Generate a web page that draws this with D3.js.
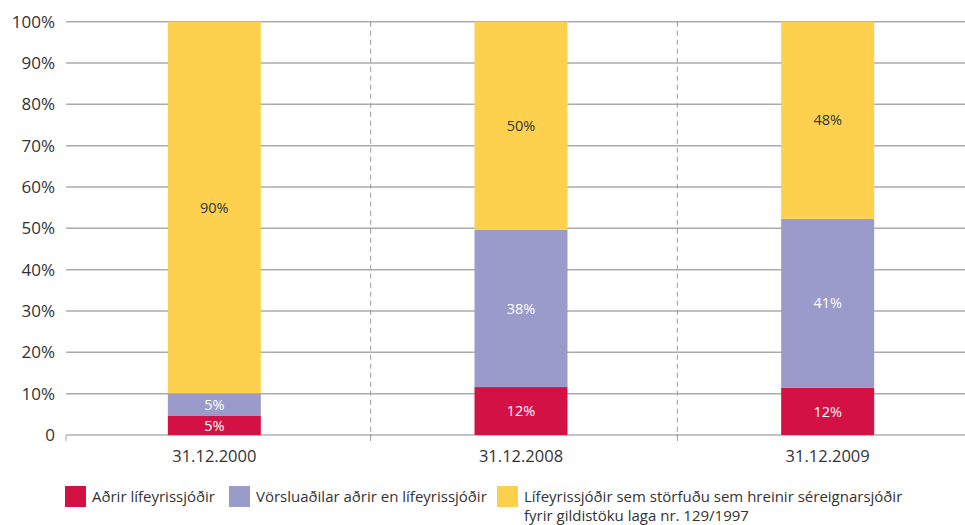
<!DOCTYPE html>
<html>
<head>
<meta charset="utf-8">
<script src="https://cdn.jsdelivr.net/npm/d3@7"></script>
<style>
  html, body { margin: 0; padding: 0; background: #fff; }
  svg { display: block; font-family: "Open Sans", "Noto Sans", sans-serif; }
</style>
</head>
<body>
<svg id="chart" width="965" height="525"></svg>
<script>
// ---- data ----
const categories = ["31.12.2000", "31.12.2008", "31.12.2009"];
const seriesNames = [
  "Aðrir lífeyrissjóðir",
  "Vörsluaðilar aðrir en lífeyrissjóðir",
  "Lífeyrissjóðir sem störfuðu sem hreinir séreignarsjóðir fyrir gildistöku laga nr. 129/1997"
];
const legendLines = [
  ["Aðrir lífeyrissjóðir"],
  ["Vörsluaðilar aðrir en lífeyrissjóðir"],
  ["Lífeyrissjóðir sem störfuðu sem hreinir séreignarsjóðir", "fyrir gildistöku laga nr. 129/1997"]
];
const adrir = [4.6, 11.6, 11.4];
const vorsluadilar = [5.5, 38.0, 40.9];
const hreinir = [89.9, 50.4, 47.7];
const labelsAdrir = ["5%", "12%", "12%"];
const labelsVorslu = ["5%", "38%", "41%"];
const labelsHreinir = ["90%", "50%", "48%"];
const yTicks = [0, 10, 20, 30, 40, 50, 60, 70, 80, 90, 100];
const colors = ["#d41145", "#9a9bcb", "#fdd14e"];
const labelColors = ["#ffffff", "#ffffff", "#333333"];

// ---- layout ----
const svg = d3.select("#chart");
const plotLeft = 66, plotRight = 965, plotTop = 21.7, plotBottom = 435;

const x = d3.scaleBand().domain(categories).range([61, 981]).padding(0);
const barW = 93;
const y = d3.scaleLinear().domain([0, 100]).range([plotBottom, plotTop]);

const values = [adrir, vorsluadilar, hreinir];
const labels = [labelsAdrir, labelsVorslu, labelsHreinir];
const rows = categories.map((c, i) => {
  const r = { cat: c };
  seriesNames.forEach((s, k) => r["s" + k] = values[k][i]);
  return r;
});
const stack = d3.stack().keys(seriesNames.map((s, k) => "s" + k))(rows);

// gridlines
svg.append("g").selectAll("line").data(yTicks).join("line")
  .attr("x1", plotLeft).attr("x2", plotRight)
  .attr("y1", d => y(d)).attr("y2", d => y(d))
  .attr("stroke", d => d === 0 ? "#c4c4c4" : "#ababab")
  .attr("stroke-width", d => d === 0 ? 2 : 1.5);

// left tick at axis start
svg.append("line").attr("x1", plotLeft).attr("x2", plotLeft)
  .attr("y1", plotBottom).attr("y2", plotBottom + 6)
  .attr("stroke", "#c4c4c4").attr("stroke-width", 1.5);

// separators between categories
const seps = categories.slice(1).map(c => x(c) + 3);
svg.append("g").selectAll("line").data(seps).join("line")
  .attr("x1", d => d).attr("x2", d => d)
  .attr("y1", plotTop).attr("y2", plotBottom)
  .attr("stroke", "#999").attr("stroke-width", 1)
  .attr("stroke-dasharray", "5,4");
svg.append("g").selectAll("line").data(seps).join("line")
  .attr("x1", d => d).attr("x2", d => d)
  .attr("y1", plotBottom - 1).attr("y2", plotBottom + 6)
  .attr("stroke", "#999").attr("stroke-width", 1);

// bars
stack.forEach((layer, k) => {
  const g = svg.append("g");
  g.selectAll("rect").data(layer).join("rect")
    .attr("x", d => x(d.data.cat) + x.bandwidth() / 2 - barW / 2)
    .attr("width", barW)
    .attr("y", d => y(d[1]))
    .attr("height", d => y(d[0]) - y(d[1]))
    .attr("fill", colors[k]);
  g.selectAll("text").data(layer).join("text")
    .attr("x", d => x(d.data.cat) + x.bandwidth() / 2)
    .attr("y", d => (y(d[0]) + y(d[1])) / 2)
    .attr("dy", "0.35em")
    .attr("text-anchor", "middle")
    .attr("font-size", 14.5)
    .attr("fill", labelColors[k])
    .text((d, i) => labels[k][i]);
});

// y axis labels
svg.append("g").selectAll("text").data(yTicks).join("text")
  .attr("x", 55)
  .attr("y", d => y(d))
  .attr("dy", "0.35em")
  .attr("text-anchor", "end")
  .attr("font-size", 17)
  .attr("fill", "#333")
  .text(d => d === 0 ? "0" : d + "%");

// x axis labels
svg.append("g").selectAll("text").data(categories).join("text")
  .attr("x", d => x(d) + x.bandwidth() / 2)
  .attr("y", 462)
  .attr("text-anchor", "middle")
  .attr("font-size", 16.5)
  .attr("fill", "#333")
  .text(d => d);

// legend
const legendX = [65, 229, 497];
const lg = svg.append("g");
seriesNames.forEach((s, k) => {
  lg.append("rect").attr("x", legendX[k]).attr("y", 486)
    .attr("width", 21).attr("height", 21).attr("fill", colors[k]);
  const t = lg.append("text").attr("x", legendX[k] + 27).attr("y", 502)
    .attr("font-size", 15).attr("fill", "#333");
  legendLines[k].forEach((line, j) => {
    t.append("tspan").attr("x", legendX[k] + 27).attr("dy", j === 0 ? 0 : 19).text(line);
  });
});
</script>
</body>
</html>
